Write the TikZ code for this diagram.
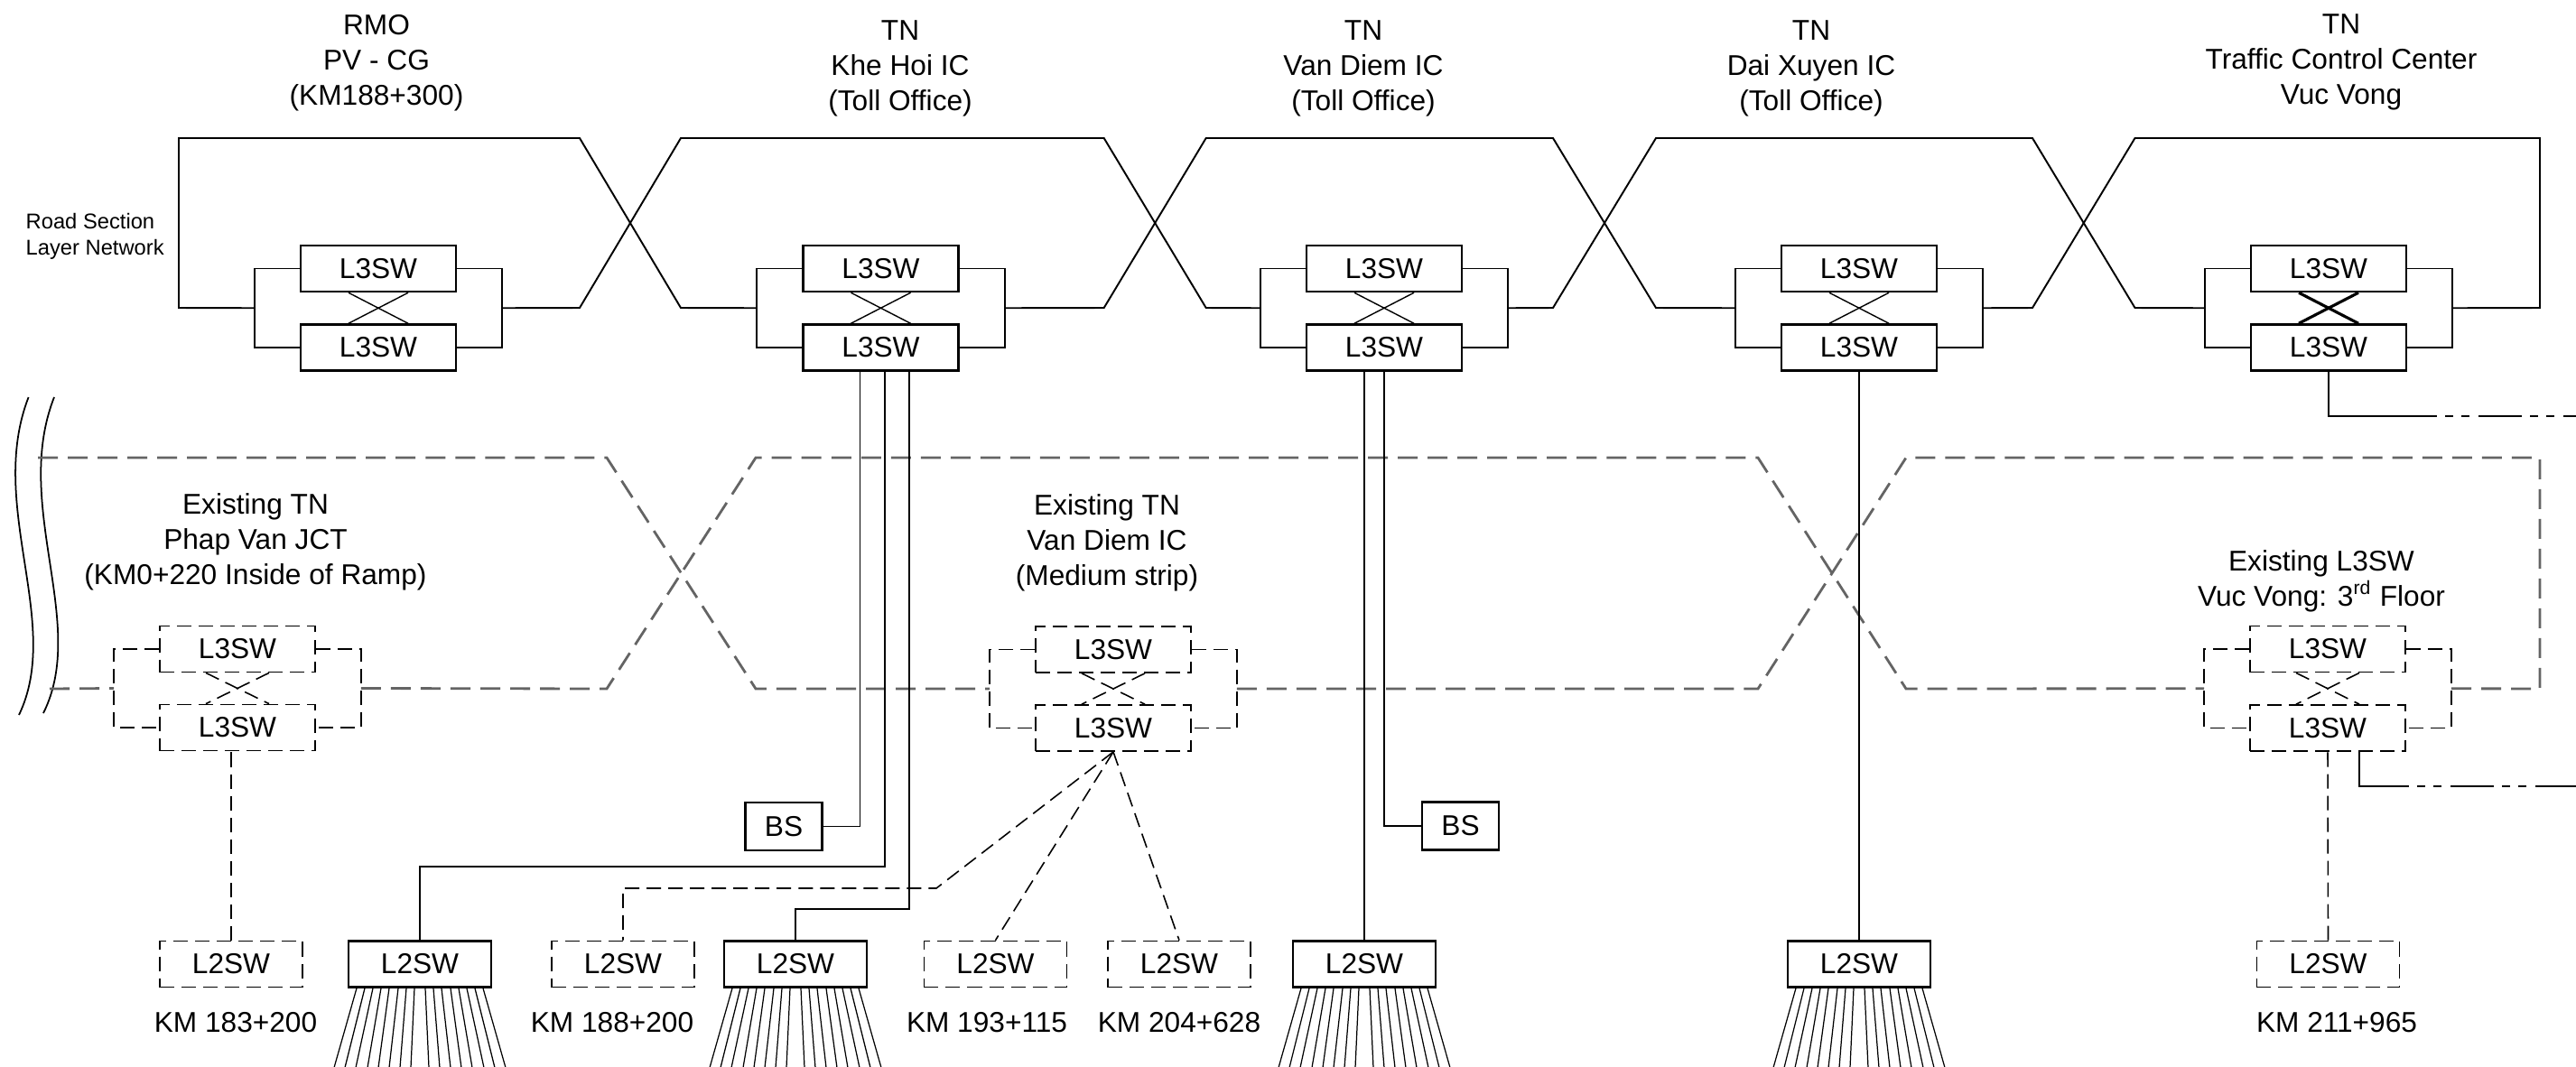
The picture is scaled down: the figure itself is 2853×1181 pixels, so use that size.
\documentclass[tikz,border=0pt]{standalone}
\usepackage{fontspec}
\setmainfont{Liberation Sans}
\usetikzlibrary{calc}
\definecolor{exgray}{RGB}{100,100,100}

\begin{document}
\begin{tikzpicture}[x=0.01cm, y=-0.01cm,
  swbox/.style={draw, line width=0.7pt, minimum width=1.72cm, minimum height=0.51cm, inner sep=0pt, font=\fontsize{9}{11}\selectfont},
  exbox/.style={swbox, line width=0.5pt, dash pattern=on 0.16cm off 0.08cm},
  l2box/.style={swbox, minimum width=1.58cm},
  exl2box/.style={exbox, minimum width=1.58cm},
  bsbox/.style={swbox, minimum width=0.85cm, minimum height=0.53cm},
  stitle/.style={align=center, inner sep=0pt, font=\fontsize{9}{11.1}\selectfont},
  kmlabel/.style={inner sep=0pt, font=\fontsize{9}{11}\selectfont},
  ring/.style={line width=0.55pt},
  wire/.style={line width=0.5pt},
  exring/.style={line width=0.8pt, draw=exgray, dash pattern=on 0.22cm off 0.11cm},
  exlink/.style={line width=0.45pt, dash pattern=on 0.16cm off 0.08cm},
  fanline/.style={line width=0.35pt},
  tclink/.style={line width=0.75pt, dash pattern=on 0.48cm off 0.09cm on 0.09cm off 0.09cm on 0.09cm off 0.1cm, dash phase=0.48cm}
]
\useasboundingbox (0,0) rectangle (2853,1181);

% titles
\node[stitle] (t1) at (417,70) {RMO\\PV - CG\\(KM188+300)};
\node[stitle] (t2) at (997,76) {TN\\Khe Hoi IC\\(Toll Office)};
\node[stitle] (t3) at (1510,76) {TN\\Van Diem IC\\(Toll Office)};
\node[stitle] (t4) at (2006,76) {TN\\Dai Xuyen IC\\(Toll Office)};
\node[stitle] (t5) at (2593,69) {TN\\Traffic Control Center\\Vuc Vong};
\node[stitle, align=left, anchor=west, font=\fontsize{6.75}{8.3}\selectfont] (layer) at (28,262) {Road Section\\Layer Network};

% road section L3SW pairs
\node[swbox] (s1u) at (419,297.5) {L3SW};
\node[swbox] (s1d) at (419,385) {L3SW};
\node[swbox] (s2u) at (975.5,297.5) {L3SW};
\node[swbox] (s2d) at (975.5,385) {L3SW};
\node[swbox] (s3u) at (1533,297.5) {L3SW};
\node[swbox] (s3d) at (1533,385) {L3SW};
\node[swbox] (s4u) at (2059,297.5) {L3SW};
\node[swbox] (s4d) at (2059,385) {L3SW};
\node[swbox] (s5u) at (2579,297.5) {L3SW};
\node[swbox] (s5d) at (2579,385) {L3SW};

\foreach \u/\d/\w in {s1u/s1d/0.4pt, s2u/s2d/0.4pt, s3u/s3d/0.4pt, s4u/s4d/0.4pt, s5u/s5d/0.9pt} {
  \draw[wire] (\u.west) -- ++(-50,0) |- (\d.west);
  \draw[wire] (\u.east) -- ++(50,0) |- (\d.east);
  \draw[line width=\w] ($(\u.south)+(-33,0)$) -- ($(\d.north)+(33,0)$);
  \draw[line width=\w] ($(\u.south)+(33,0)$) -- ($(\d.north)+(-33,0)$);
  \coordinate (\u-l) at ($(\u.west)!0.5!(\d.west)+(-50,0)$);
  \coordinate (\u-r) at ($(\u.east)!0.5!(\d.east)+(50,0)$);
}

% road section ring
\draw[ring] (s1u-l) -- (198,341) -- (198,153) -- (642,153) -- (754,341) -- (s2u-l);
\draw[ring] (s1u-r) -- (642,341) -- (754,153) -- (1222.7,153) -- (1335.7,341) -- (s3u-l);
\draw[ring] (s2u-r) -- (1222.7,341) -- (1335.7,153) -- (1720,153) -- (1834,341) -- (s4u-l);
\draw[ring] (s3u-r) -- (1720,341) -- (1834,153) -- (2251,153) -- (2364.5,341) -- (s5u-l);
\draw[ring] (s4u-r) -- (2251,341) -- (2364.5,153) -- (2813,153) -- (2813,341) -- (s5u-r);

% break mark
\draw[wire] (31.6,440) .. controls (-15,560) and (70,690) .. (21,792);
\draw[wire] (60,440) .. controls (13,560) and (98,690) .. (48,790);

% existing network
\node[stitle] (ta) at (283,600) {Existing TN\\Phap Van JCT\\(KM0+220 Inside of Ramp)};
\node[stitle] (tb) at (1226,601) {Existing TN\\Van Diem IC\\(Medium strip)};
\node[stitle] (tc) at (2571,644) {Existing L3SW\\Vuc Vong: 3\textsuperscript{rd} Floor};

\node[exbox] (l3au) at (263,719) {L3SW};
\node[exbox] (l3ad) at (263,806) {L3SW};
\node[exbox] (l3bu) at (1233,719.5) {L3SW};
\node[exbox] (l3bd) at (1233,806.5) {L3SW};
\node[exbox] (l3cu) at (2578,719) {L3SW};
\node[exbox] (l3cd) at (2578,806.5) {L3SW};

\foreach \u/\d in {l3au/l3ad, l3bu/l3bd, l3cu/l3cd} {
  \draw[exlink] (\u.west) -- ++(-50,0) |- (\d.west);
  \draw[exlink] (\u.east) -- ++(50,0) |- (\d.east);
  \draw[exlink] ($(\u.south)+(-35,0)$) -- ($(\d.north)+(35,0)$);
  \draw[exlink] ($(\u.south)+(35,0)$) -- ($(\d.north)+(-35,0)$);
  \coordinate (\u-l) at ($(\u.west)!0.5!(\d.west)+(-50,0)$);
  \coordinate (\u-r) at ($(\u.east)!0.5!(\d.east)+(50,0)$);
}

\draw[exring] (42,507) -- (672,507) -- (837,763) -- (l3bu-l);
\draw[exring] (55,763) -- (l3au-l);
\draw[exring] (l3au-r) -- (672,763) -- (837,507) -- (1947,507) -- (2111,763) -- (l3cu-l);
\draw[exring] (l3bu-r) -- (1947,763) -- (2111,507) -- (2813,507) -- (2813,763) -- (l3cu-r);

% L2SW and BS
\node[exl2box] (l2a) at (256,1068) {L2SW};
\node[l2box] (l2b) at (465,1068) {L2SW};
\node[exl2box] (l2c) at (690,1068) {L2SW};
\node[l2box] (l2d) at (881,1068) {L2SW};
\node[exl2box] (l2e) at (1102.5,1068) {L2SW};
\node[exl2box] (l2f) at (1306,1068) {L2SW};
\node[l2box] (l2g) at (1511,1068) {L2SW};
\node[l2box] (l2h) at (2059,1068) {L2SW};
\node[exl2box] (l2i) at (2578.5,1068) {L2SW};
\node[bsbox] (bs1) at (868,915.5) {BS};
\node[bsbox] (bs2) at (1617.5,915) {BS};

\node[kmlabel] (kma) at (261,1133) {KM 183+200};
\node[kmlabel] (kmc) at (678,1133) {KM 188+200};
\node[kmlabel] (kme) at (1093,1133) {KM 193+115};
\node[kmlabel] (kmf) at (1306,1133) {KM 204+628};
\node[kmlabel] (kmi) at (2588,1133) {KM 211+965};

% links
\draw[wire] (bs1.east) -| ($(s2d.south)+(-23,0)$);
\draw[wire] (l2b.north) -- ++(0,-81.5) -| ($(s2d.south)+(4.5,0)$);
\draw[wire] (l2d.north) -- ++(0,-34.5) -| ($(s2d.south)+(31.5,0)$);
\draw[wire] (l2g.north) -- (l2g.north |- s3d.south);
\draw[wire] (bs2.west) -| (s3d.south);
\draw[wire] (l2h.north) -- (s4d.south);

\coordinate (tcca) at (2699,461);
\coordinate (tccb) at (2853,461);
\draw[wire] (s5d.south) |- (tcca);
\draw[tclink] (tcca) -- (tccb);

\draw[exlink] (l2a.north) -- (l2a.north |- l3ad.south);
\coordinate (kmb) at (1037,984);
\draw[exlink] (l3bd.south) -- (kmb) -| (l2c.north);
\draw[exlink] (l3bd.south) -- (l2e.north);
\draw[exlink] (l3bd.south) -- (l2f.north);
\draw[exlink] (l2i.north) -- (l3cd.south);

\coordinate (exca) at (2668,871);
\coordinate (excb) at (2853,871);
\draw[wire] ($(l3cd.south)+(35,0)$) |- (exca);
\draw[tclink] (exca) -- (excb);

% access lines
\foreach \n in {l2b,l2d,l2g,l2h}
  \foreach \t/\b in {-70/-95, -61/-83, -52/-71, -43/-58, -34/-46, -24/-34, -15/-22, -6/-10, 6/10, 15/22, 24/34, 34/46, 43/58, 52/71, 61/83, 70/95}
    \draw[fanline] ($(\n.south)+(\t,0)$) -- ($(\n.south)+(\b,88)$);
\end{tikzpicture}
\end{document}
